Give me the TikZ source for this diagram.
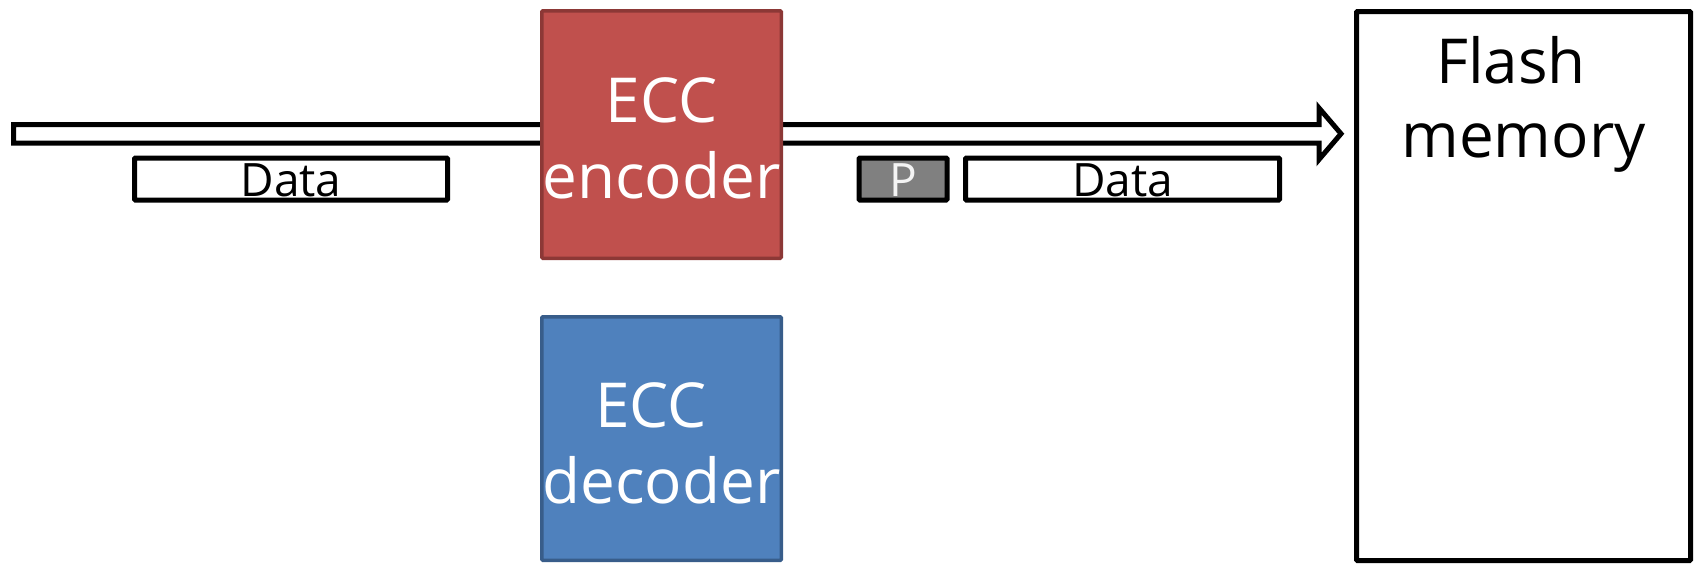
\documentclass[tikz,border=0pt]{standalone}
\usepackage{fontspec}
\setmainfont{Open Sans}
\definecolor{encfill}{HTML}{C0504D}
\definecolor{encline}{HTML}{8C3836}
\definecolor{decfill}{HTML}{4F81BD}
\definecolor{decline}{HTML}{385D8A}
\definecolor{pfill}{HTML}{808080}
\definecolor{ptext}{HTML}{F4F4F4}
\begin{document}
\begin{tikzpicture}[x=1pt,y=-1pt,
  blk/.style={draw=black,line width=5pt,fill=white,rectangle,inner sep=0pt,rounded corners=1pt},
  enc/.style={draw=encline,line width=3.5pt,fill=encfill,rectangle,inner sep=0pt,rounded corners=1pt},
  dec/.style={draw=decline,line width=3.5pt,fill=decfill,rectangle,inner sep=0pt,rounded corners=1pt},
  pbox/.style={draw=black,line width=5pt,fill=pfill,rectangle,inner sep=0pt,rounded corners=1pt},
  big/.style={font=\fontsize{62}{75}\selectfont,inner sep=0pt,anchor=base},
  small/.style={font=\fontsize{46}{55}\selectfont,inner sep=0pt,anchor=base},
  blockarrow/.style={draw=black,line width=5pt,fill=white,line join=miter}]
\useasboundingbox (0,0) rectangle (1696,566);
% flash memory box
\node[blk,minimum width=334pt,minimum height=549pt] (flash) at (1523.5,286) {};
\node[big] (flashT1) at (1511,83) {Flash};
\node[big] (flashT2) at (1523.5,157) {memory};
% block arrow from the source to the flash memory
\coordinate (srcT) at (13.5,124.5);
\coordinate (srcB) at (13.5,143);
\draw[blockarrow] (srcT) -- (1319,124.5) -- (1319,108) -- (1341,133.75)
  -- (1319,159.5) -- (1319,143) -- (srcB) -- cycle;
% encoder
\node[enc,minimum width=239.5pt,minimum height=247.5pt] (enc) at (661.5,134.5) {};
\node[big,white] (encT1) at (661.5,122) {ECC};
\node[big,white] (encT2) at (661.5,198) {encoder};
% decoder
\node[dec,minimum width=239.5pt,minimum height=243.5pt] (dec) at (661.5,438.5) {};
\node[big,white] (decT1) at (651,427) {ECC};
\node[big,white] (decT2) at (661.5,503) {decoder};
% data packets
\node[blk,minimum width=313pt,minimum height=42pt] (data1) at (291,179) {};
\node[small] (data1T) at (291,196) {Data};
\node[pbox,minimum width=88pt,minimum height=42pt] (p) at (903,179) {};
\node[small,ptext] (pT) at (903,196) {P};
\node[blk,minimum width=314pt,minimum height=42pt] (data2) at (1122.5,179) {};
\node[small] (data2T) at (1122.5,196) {Data};
\end{tikzpicture}
\end{document}
